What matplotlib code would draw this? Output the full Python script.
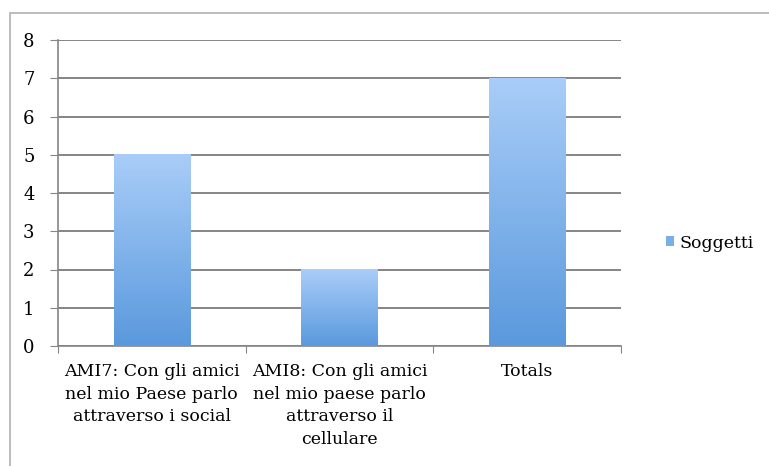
import numpy as np
import matplotlib.pyplot as plt
from matplotlib.colors import LinearSegmentedColormap
from matplotlib.patches import Rectangle

plt.rcParams['font.family'] = ['DejaVu Serif']

categorie = ['AMI7: Con gli amici\nnel mio Paese parlo\nattraverso i social',
             'AMI8: Con gli amici\nnel mio paese parlo\nattraverso il\ncellulare',
             'Totals']
soggetti = [5, 2, 7]

fig = plt.figure(figsize=(7.69, 4.66), dpi=100)
fig.patches.append(Rectangle((10 / 769, -0.1), 1.0, 1 - 13 / 466 + 0.1,
                             transform=fig.transFigure, fill=False,
                             edgecolor='#b0b0b0', linewidth=1.2))
ax = fig.add_axes([58 / 769, 1 - 346 / 466, (621 - 58) / 769, (346 - 40) / 466])

x = np.arange(len(soggetti))
bars = ax.bar(x, soggetti, width=0.405, color='none', edgecolor='none', zorder=3,
              label='Soggetti')

cmap = LinearSegmentedColormap.from_list('blu', ['#5a99dd', '#a9cdf8'])
grad = np.linspace(0, 1, 256).reshape(-1, 1)
for b in bars:
    x0, y0 = b.get_x(), b.get_y()
    w, h = b.get_width(), b.get_height()
    ax.imshow(grad, cmap=cmap, aspect='auto', origin='lower',
              extent=[x0, x0 + w, y0, y0 + h], zorder=3)

ax.set_xlim(-0.5, 2.5)
ax.set_ylim(0, 8)
ax.set_yticks(range(0, 9))
ax.yaxis.grid(True, color='#858585', linewidth=1.4)
ax.set_axisbelow(True)

ax.set_xticks([-0.5, 0.5, 1.5, 2.5])
ax.set_xticklabels([])
ax.set_xticks(x, minor=True)
ax.set_xticklabels(categorie, minor=True, fontsize=12.5, linespacing=1.45)
ax.tick_params(axis='x', which='minor', length=0, pad=12)
ax.tick_params(axis='x', which='major', length=5, color='#858585', direction='out')
ax.tick_params(axis='y', length=6, color='#858585', labelsize=13, pad=11)

for s in ['top', 'right']:
    ax.spines[s].set_visible(False)
for s in ['left', 'bottom']:
    ax.spines[s].set_color('#858585')
    ax.spines[s].set_linewidth(1.2)

handle = Rectangle((0, 0), 1, 1, facecolor='#78aee9')
fig.legend([handle], ['Soggetti'], loc='center left', bbox_to_anchor=(650 / 769, 1 - 243 / 466),
           frameon=False, fontsize=12.5, handlelength=0.5, handleheight=0.5, handletextpad=0.3)

plt.savefig('out.png', dpi=100)
